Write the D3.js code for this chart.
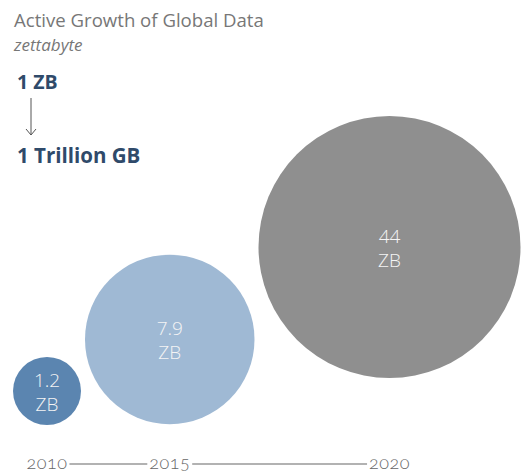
<!DOCTYPE html>
<html>
<head>
<meta charset="utf-8">
<script src="https://cdn.jsdelivr.net/npm/d3@7"></script>
<style>
  body { margin: 0; background: #fff; }
  svg text { font-family: "Open Sans", sans-serif; }
  .year { font-family: Lato, sans-serif; font-feature-settings: "onum" 1; }
</style>
</head>
<body>
<div id="chart"></div>
<script>
var years = [2010, 2015, 2020];
var values = [1.2, 7.9, 44];
var valueLabels = ["1.2", "7.9", "44"];
var unit = "ZB";
var colors = ["#5b85b0", "#9fb9d4", "#8f8f8f"];

var width = 531, height = 475;

var svg = d3.select("#chart")
  .append("svg")
    .attr("width", width)
    .attr("height", height);

// header texts
svg.append("text")
  .attr("x", 14).attr("y", 27)
  .attr("font-size", "18.6px")
  .attr("fill", "#777")
  .text("Active Growth of Global Data");
svg.append("text")
  .attr("x", 14).attr("y", 51)
  .attr("font-size", "17px")
  .attr("font-style", "italic")
  .attr("fill", "#777")
  .text("zettabyte");
svg.append("text")
  .attr("x", 17).attr("y", 89)
  .attr("font-size", "19.5px")
  .attr("font-weight", "bold")
  .attr("fill", "#2f4a6a")
  .text("1 ZB");
svg.append("line")
  .attr("x1", 31).attr("x2", 31)
  .attr("y1", 98).attr("y2", 135)
  .attr("stroke", "#555").attr("stroke-width", 1);
svg.append("path")
  .attr("d", "M26,129 L31,135 L36,129")
  .attr("fill", "none")
  .attr("stroke", "#555").attr("stroke-width", 1);
svg.append("text")
  .attr("x", 17).attr("y", 163)
  .attr("font-size", "20.5px")
  .attr("font-weight", "bold")
  .attr("fill", "#2f4a6a")
  .text("1 Trillion GB");

// radius scale
var r = d3.scaleLog()
  .domain([values[0], values[2]])
  .range([34, 131]);

// circles sit side by side with a small gap, centers along a rising diagonal
var gap = 4, left = 13;
var nodes = [];
var cx = left;
values.forEach(function(v, i) {
  var rad = r(v);
  cx = (i === 0) ? left + rad : cx + nodes[i - 1].r + gap + rad;
  nodes.push({year: years[i], value: v, label: valueLabels[i], r: rad, x: cx, color: colors[i]});
});

var y = d3.scaleLinear()
  .domain([nodes[0].x, nodes[2].x])
  .range([391, 247]);

var g = svg.selectAll("g.bubble")
  .data(nodes)
  .enter()
  .append("g")
    .attr("class", "bubble")
    .attr("transform", function(d) { return "translate(" + d.x + "," + y(d.x) + ")"; });

g.append("circle")
  .attr("r", function(d) { return d.r; })
  .attr("fill", function(d) { return d.color; });

g.append("text")
  .attr("text-anchor", "middle")
  .attr("y", -4)
  .attr("font-size", "19px")
  .attr("font-weight", 300)
  .attr("fill", "#f4f4f4")
  .text(function(d) { return d.label; });

g.append("text")
  .attr("text-anchor", "middle")
  .attr("y", 20)
  .attr("font-size", "19px")
  .attr("font-weight", 300)
  .attr("fill", "#f4f4f4")
  .text(unit);

// year axis
var axisY = 469;
var labels = svg.selectAll("text.year")
  .data(nodes)
  .enter()
  .append("text")
    .attr("class", "year")
    .attr("x", function(d) { return d.x; })
    .attr("y", axisY)
    .attr("text-anchor", "middle")
    .attr("font-size", "18px")
    .attr("font-weight", 300)
    .attr("letter-spacing", "0.5px")
    .attr("fill", "#666")
    .text(function(d) { return d.year; });

var boxes = [];
labels.each(function() { boxes.push(this.getBBox()); });
for (var i = 0; i < boxes.length - 1; i++) {
  svg.append("line")
    .attr("x1", boxes[i].x + boxes[i].width + 2)
    .attr("x2", boxes[i + 1].x - 2)
    .attr("y1", axisY - 5).attr("y2", axisY - 5)
    .attr("stroke", "#999").attr("stroke-width", 1.5);
}
</script>
</body>
</html>
